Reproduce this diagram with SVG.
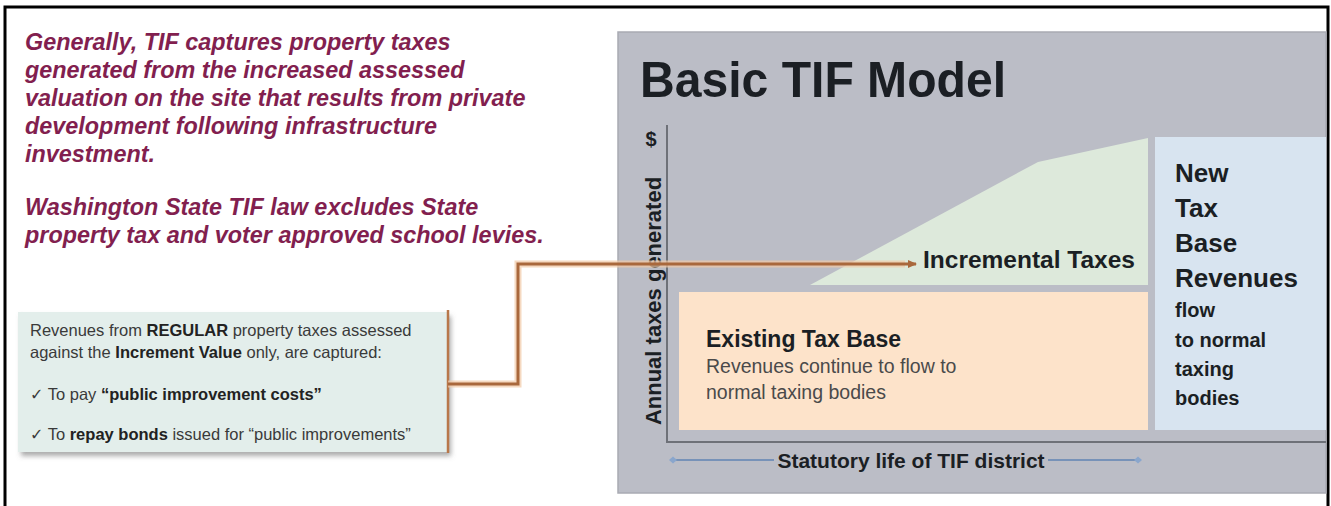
<svg xmlns="http://www.w3.org/2000/svg" width="1331" height="506" viewBox="0 0 1331 506">
<defs>
<style>
.intro{font-family:"Liberation Sans",Arial,sans-serif;font-weight:bold;font-style:italic;font-size:23.4px;fill:#821f4f}
.box{font-family:"Liberation Sans",Arial,sans-serif;font-size:16.5px;fill:#3a3a3a}
.b{font-weight:bold;fill:#222}
.chk{font-family:"DejaVu Sans",sans-serif;font-size:16px}
.lbl{font-family:"Liberation Sans",Arial,sans-serif;font-weight:bold;fill:#1b1f24}
.sub{font-family:"Liberation Sans",Arial,sans-serif;font-size:19.5px;fill:#4a4a4a}
.axis{stroke:#6e7178;stroke-width:2;fill:none}
.conn-glow{stroke:#f1c9a6;stroke-width:7;fill:none;opacity:0.7}
.conn{stroke:#a9683c;stroke-width:3;fill:none}
.span{stroke:#7792b8;stroke-width:2;fill:none}
</style>
<marker id="ah" markerWidth="10" markerHeight="10" refX="8" refY="5" orient="auto" markerUnits="userSpaceOnUse">
<path d="M0,1 L9,5 L0,9 Z" fill="#a9683c"/>
</marker>
<marker id="dm" markerWidth="10" markerHeight="10" refX="5" refY="5" orient="auto" markerUnits="userSpaceOnUse">
<path d="M1,5 L5,1.5 L9,5 L5,8.5 Z" fill="#8aa6cc"/>
</marker>
<filter id="sh" x="-5%" y="-10%" width="115%" height="130%">
<feDropShadow dx="3" dy="4" stdDeviation="2.5" flood-color="#666" flood-opacity="0.55"/>
</filter>
</defs>
<rect x="0" y="0" width="1331" height="506" fill="#ffffff"/>
<path d="M5,506 V7 H1328 V506" fill="none" stroke="#000" stroke-width="3"/>

<g id="intro-text">
<text class="intro" x="25" y="50">Generally, TIF captures property taxes</text>
<text class="intro" x="25" y="78">generated from the increased assessed</text>
<text class="intro" x="25" y="106">valuation on the site that results from private</text>
<text class="intro" x="25" y="134">development following infrastructure</text>
<text class="intro" x="25" y="162">investment.</text>
<text class="intro" x="25" y="215">Washington State TIF law excludes State</text>
<text class="intro" x="25" y="243">property tax and voter approved school levies.</text>
</g>

<g id="panel">
<rect x="618" y="32" width="708" height="461" fill="#bbbdc6" stroke="#a9abb3" stroke-width="1.5"/>
<text class="lbl" x="640" y="97" font-size="50" fill="#111" textLength="366" lengthAdjust="spacingAndGlyphs">Basic TIF Model</text>
</g>

<g id="incremental-taxes">
<polygon points="810,285 1038,162 1148,138 1148,285" fill="#dde9db"/>
<text class="lbl" x="923" y="268" font-size="24.5">Incremental Taxes</text>
</g>

<g id="existing-tax-base">
<rect x="679" y="292" width="469" height="138" fill="#fde3ca"/>
<text class="lbl" x="706" y="347" font-size="23">Existing Tax Base</text>
<text class="sub" x="706" y="373">Revenues continue to flow to</text>
<text class="sub" x="706" y="399">normal taxing bodies</text>
</g>

<g id="new-tax-base">
<rect x="1155" y="137" width="171" height="293" fill="#d8e4f0"/>
<text class="lbl" font-size="26" x="1175" y="182">New</text>
<text class="lbl" font-size="26" x="1175" y="217">Tax</text>
<text class="lbl" font-size="26" x="1175" y="252">Base</text>
<text class="lbl" font-size="26" x="1175" y="287">Revenues</text>
<text class="lbl" font-size="20" x="1175" y="317">flow</text>
<text class="lbl" font-size="20" x="1175" y="347">to normal</text>
<text class="lbl" font-size="20" x="1175" y="376">taxing</text>
<text class="lbl" font-size="20" x="1175" y="405">bodies</text>
</g>

<g id="axes">
<path class="axis" d="M667,125 V442 H1326"/>
<text class="lbl" x="651" y="146" font-size="20" text-anchor="middle">$</text>
<text class="lbl" x="0" y="0" font-size="22" text-anchor="middle" transform="translate(661,301) rotate(-90)">Annual taxes generated</text>
</g>

<g id="statutory-life">
<line class="span" x1="673" y1="460" x2="774" y2="460" marker-start="url(#dm)"/>
<line class="span" x1="1048" y1="460" x2="1138" y2="460" marker-end="url(#dm)"/>
<text class="lbl" x="911" y="468" font-size="21" text-anchor="middle">Statutory life of TIF district</text>
</g>

<g id="revenue-box">
<rect x="18" y="312" width="430" height="140" fill="#e3eeeb" filter="url(#sh)"/>
<line x1="448" y1="310" x2="448" y2="453" stroke="#b8774a" stroke-width="2.5"/>
<text class="box" x="30" y="336">Revenues from <tspan class="b">REGULAR</tspan> property taxes assessed</text>
<text class="box" x="30" y="358">against the <tspan class="b">Increment Value</tspan> only, are captured:</text>
<text class="box" x="30" y="400"><tspan class="chk">✓</tspan> To pay <tspan class="b">“public improvement costs”</tspan></text>
<text class="box" x="30" y="440"><tspan class="chk">✓</tspan> To <tspan class="b">repay bonds</tspan> issued for “public improvements”</text>
</g>

<g id="connectors">
<path class="conn-glow" d="M448,384 H518 V264 H905"/>
<path class="conn" d="M448,384 H518 V264 H916" marker-end="url(#ah)"/>
</g>
</svg>
